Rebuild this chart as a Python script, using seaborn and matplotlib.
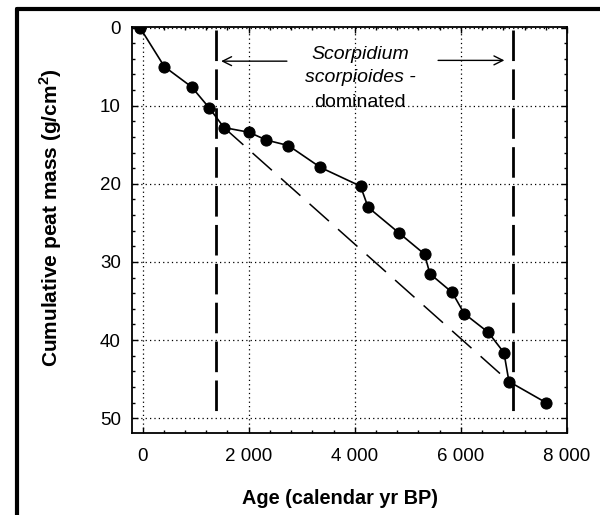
import matplotlib
matplotlib.use("Agg")
import matplotlib.pyplot as plt
import seaborn as sns
import pandas as pd
from matplotlib.lines import Line2D
from matplotlib.ticker import MultipleLocator, FuncFormatter

# values
age = [-50, 410, 925, 1258, 1534, 2006, 2334, 2749, 3353, 4108,
       4251, 4836, 5315, 5415, 5836, 6062, 6515, 6811, 6906, 7604]
mass = [0.0, 5.0, 7.6, 10.3, 12.8, 13.4, 14.4, 15.1, 17.9, 20.3,
        23.0, 26.3, 29.0, 31.5, 33.9, 36.6, 39.0, 41.6, 45.3, 48.0]

trend_age = [1534, 6906]
trend_mass = [12.8, 45.3]

zone_bounds = [1390, 6990]
zone_depth = [0.3, 50.0]

label_lines = ["Scorpidium", "scorpioides -", "dominated"]
label_styles = ["italic", "italic", "normal"]
label_y = [3.5, 6.4, 9.6]
label_x = 4100

x_ticks = [0, 2000, 4000, 6000, 8000]
y_ticks = [0, 10, 20, 30, 40, 50]

sns.set_style("white")
plt.rcParams["font.family"] = ["Liberation Sans", "DejaVu Sans"]
plt.rcParams["text.color"] = "k"
plt.rcParams["axes.labelcolor"] = "k"
plt.rcParams["xtick.color"] = "k"
plt.rcParams["ytick.color"] = "k"

fig = plt.figure(figsize=(6.0, 5.15), dpi=100)
ax = fig.add_axes([0.22, 0.159, 0.725, 0.789])

df = pd.DataFrame({"age": age, "mass": mass})

# dashed reference line
ax.plot(trend_age, trend_mass, color="k", lw=1.1, dashes=(17, 8))

# zone boundaries
for xb in zone_bounds:
    ax.plot([xb, xb], zone_depth, color="k", lw=2, dashes=(11, 3))

sns.lineplot(data=df, x="age", y="mass", ax=ax, color="k", lw=1.2,
             marker="o", markersize=8, markeredgecolor="k",
             estimator=None, sort=False)

for txt, st, yy in zip(label_lines, label_styles, label_y):
    ax.text(label_x, yy, txt, ha="center", va="center", fontsize=14,
            style=st)

ax.annotate("", xy=(1480, 4.3), xytext=(2720, 4.3),
            arrowprops=dict(arrowstyle="->", lw=1, color="k", mutation_scale=16,
                            shrinkA=0, shrinkB=0))
ax.annotate("", xy=(6820, 4.2), xytext=(5570, 4.2),
            arrowprops=dict(arrowstyle="->", lw=1, color="k", mutation_scale=16,
                            shrinkA=0, shrinkB=0))

ax.set_xlim(-200, 8000)
ax.set_ylim(51.9, -0.1)
ax.set_xticks(x_ticks)
ax.set_yticks(y_ticks)
ax.xaxis.set_minor_locator(MultipleLocator(400))
ax.yaxis.set_minor_locator(MultipleLocator(2))
ax.xaxis.set_major_formatter(FuncFormatter(lambda v, p: f"{int(v):,}".replace(",", " ")))

ax.grid(True, which="major", color="k", lw=0.9, linestyle=(0, (1, 2.5)))
ax.tick_params(which="both", direction="in", top=True, right=True,
               bottom=True, left=True, color="k", labelsize=13.5)
ax.tick_params(axis="x", pad=11)
ax.tick_params(axis="y", pad=8)
ax.tick_params(which="major", length=4, width=1)
ax.tick_params(which="minor", length=2.5, width=1)
for s in ax.spines.values():
    s.set_color("k")
    s.set_linewidth(1.3)

ax.set_xlabel("Age (calendar yr BP)", fontsize=14.3, fontweight="bold", labelpad=17)
ax.set_ylabel("Cumulative peat mass (g/cm$^\\mathregular{2}$)", fontsize=15,
              fontweight="bold", labelpad=26)
ax.xaxis.label.set_x(0.478)
ax.yaxis.label.set_y(0.53)

# outer frame (top and left edges visible)
fig.add_artist(Line2D([17 / 600, 17 / 600], [0, 1 - 8.5 / 515],
                      transform=fig.transFigure, color="k", lw=3))
fig.add_artist(Line2D([17 / 600, 1], [1 - 8.5 / 515, 1 - 8.5 / 515],
                      transform=fig.transFigure, color="k", lw=3))

fig.savefig("out.png", dpi=100, facecolor="white")
